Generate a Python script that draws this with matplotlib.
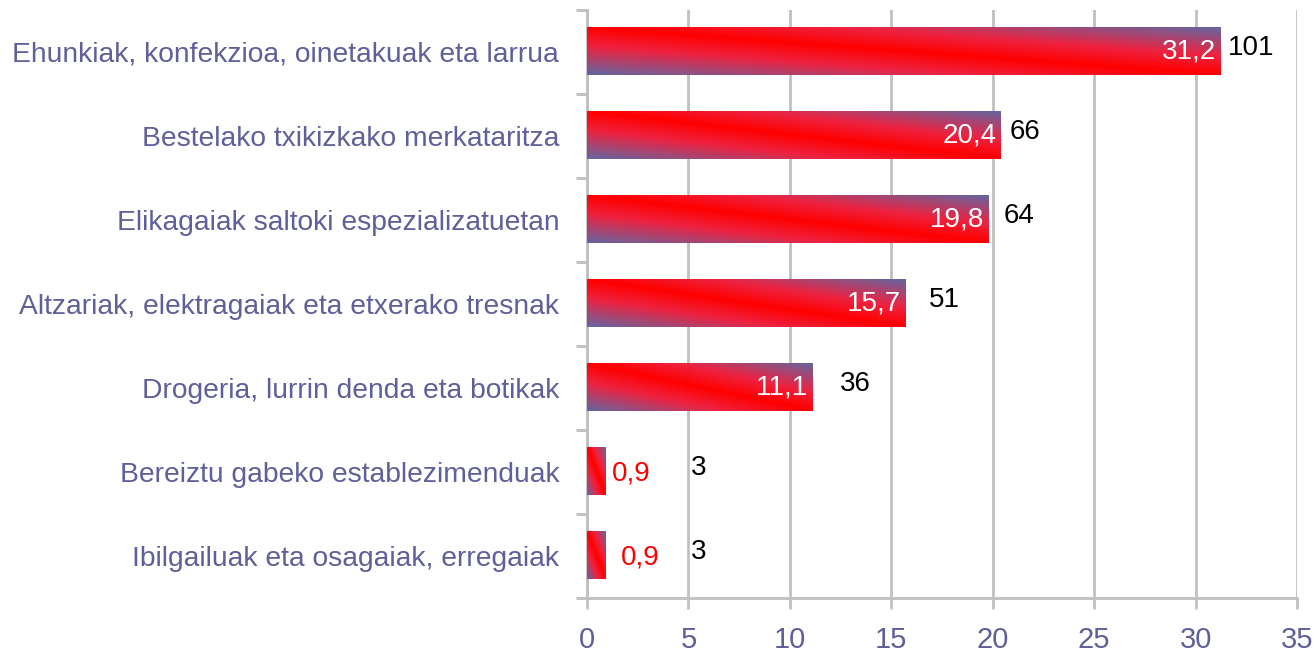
import numpy as np
import matplotlib.pyplot as plt
from matplotlib.colors import LinearSegmentedColormap

plt.rcParams['font.family'] = ['Liberation Sans', 'DejaVu Sans']

# datuak
kategoriak = ['Ehunkiak, konfekzioa, oinetakuak eta larrua',
              'Bestelako txikizkako merkataritza',
              'Elikagaiak saltoki espezializatuetan',
              'Altzariak, elektragaiak eta etxerako tresnak',
              'Drogeria, lurrin denda eta botikak',
              'Bereiztu gabeko establezimenduak',
              'Ibilgailuak eta osagaiak, erregaiak']
ehunekoak = [31.2, 20.4, 19.8, 15.7, 11.1, 0.9, 0.9]
kopuruak = [101, 66, 64, 51, 36, 3, 3]
ehuneko_testua = ['31,2', '20,4', '19,8', '15,7', '11,1', '0,9', '0,9']

# kopuruen etiketen desplazamendua (puntutan, barraren amaieratik)
kop_offset = [6, 6, 11, 17, 20, 62, 62]
small_offset = [5, 11]

fig = plt.figure(figsize=(13.15, 6.52), dpi=100)
ax = fig.add_axes([0.4464, 0.083, 0.54, 0.902])

lab_col = '#5F5F99'
grid_col = '#C0C0C0'

cmap = LinearSegmentedColormap.from_list('grad', [(0, '#FF0000'), (0.4, '#EE2240'), (1, '#6466A0')])
u = np.linspace(0, 1, 200)
v = np.linspace(0, 1, 60)
U, V = np.meshgrid(u, v)
grad = np.abs(U + V - 1)  # V=0 behean (origin lower)

n = len(kategoriak)
ypos = np.arange(n)[::-1]
h = 0.56
for y, val in zip(ypos, ehunekoak):
    ax.imshow(grad, cmap=cmap, vmin=0, vmax=1, origin='lower', aspect='auto',
              extent=[0, val, y - h / 2, y + h / 2], zorder=3, interpolation='bilinear')

ax.set_xlim(0, 35)
ax.set_ylim(-0.5, n - 0.5)
ax.set_xticks(np.arange(0, 36, 5))
ax.set_yticks(ypos)
ax.set_yticklabels(kategoriak)
ax.set_yticks(np.arange(-0.5, n, 1), minor=True)

ax.tick_params(axis='y', which='major', length=0, pad=20, labelsize=20.3, labelcolor=lab_col)
ax.tick_params(axis='y', which='minor', length=8, width=2, color=grid_col, direction='out')
ax.tick_params(axis='x', length=8, width=2, color=grid_col, labelsize=21, labelcolor=lab_col, pad=12)

ax.grid(axis='x', color=grid_col, linewidth=2, zorder=0)
for s in ['top', 'right']:
    ax.spines[s].set_visible(False)
for s in ['left', 'bottom']:
    ax.spines[s].set_color(grid_col)
    ax.spines[s].set_linewidth(2)

for i, (y, val, txt, k) in enumerate(zip(ypos, ehunekoak, ehuneko_testua, kopuruak)):
    if val > 5:
        ax.annotate(txt, (val, y), xytext=(-3, 0), textcoords='offset points',
                    ha='right', va='center', color='white', fontsize=20, zorder=4)
    else:
        ax.annotate(txt, (val, y), xytext=(small_offset[i - 5], -1), textcoords='offset points',
                    ha='left', va='center', color='#FF0000', fontsize=20, zorder=4)
    ax.annotate(str(k), (val, y), xytext=(kop_offset[i], 3), textcoords='offset points',
                ha='left', va='center', color='black', fontsize=20, zorder=4)

fig.savefig('out.png', dpi=100)
